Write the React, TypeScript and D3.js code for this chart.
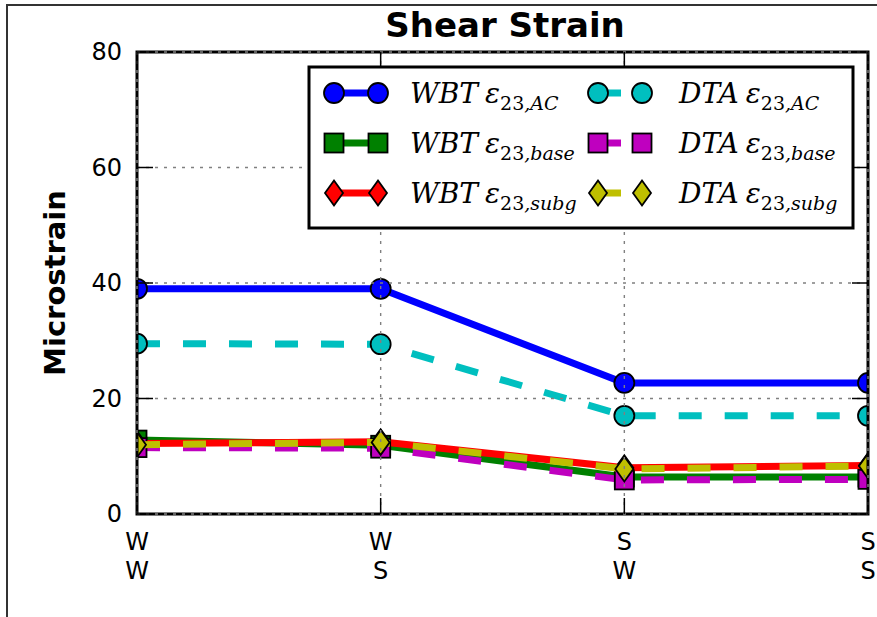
import React from "react";
import * as d3 from "d3";

// Loading-case categories (two-line tick labels)
const categoriesTop = ["W", "W", "S", "S"];
const categoriesBottom = ["W", "S", "W", "S"];
const yTicks = [0, 20, 40, 60, 80];

// Shear strain series (microstrain)
const wbtAC = [39.0, 39.0, 22.7, 22.7];
const wbtBase = [12.8, 11.9, 6.4, 6.4];
const wbtSubg = [12.2, 12.5, 8.0, 8.4];
const dtaAC = [29.5, 29.4, 17.0, 17.0];
const dtaBase = [11.5, 11.4, 5.9, 6.0];
const dtaSubg = [12.0, 12.4, 7.8, 8.3];

type Marker = "circle" | "square" | "diamond";
interface Series {
  values: number[];
  color: string;
  marker: Marker;
  dashed: boolean;
  name: string;
  sub: string;
}

const series: Series[] = [
  { values: wbtAC, color: "#0000ff", marker: "circle", dashed: false, name: "WBT", sub: "AC" },
  { values: wbtBase, color: "#008000", marker: "square", dashed: false, name: "WBT", sub: "base" },
  { values: wbtSubg, color: "#ff0000", marker: "diamond", dashed: false, name: "WBT", sub: "subg" },
  { values: dtaAC, color: "#00bfbf", marker: "circle", dashed: true, name: "DTA", sub: "AC" },
  { values: dtaBase, color: "#bf00bf", marker: "square", dashed: true, name: "DTA", sub: "base" },
  { values: dtaSubg, color: "#bfbf00", marker: "diamond", dashed: true, name: "DTA", sub: "subg" },
];

const W = 877;
const H = 617;
const left = 137;
const right = 868;
const top = 52;
const bottom = 514;

const x = d3.scaleLinear().domain([0, categoriesTop.length - 1]).range([left, right]);
const y = d3.scaleLinear().domain([0, 80]).range([bottom, top]);

const sans = "DejaVu Sans, sans-serif";
const serif = "DejaVu Serif, Liberation Serif, serif";

function MarkerShape({ kind, cx, cy, color }: { kind: Marker; cx: number; cy: number; color: string }) {
  const stroke = "#000";
  const sw = 1.8;
  if (kind === "circle") return <circle cx={cx} cy={cy} r={10} fill={color} stroke={stroke} strokeWidth={sw} />;
  if (kind === "square")
    return <rect x={cx - 9.5} y={cy - 9.5} width={19} height={19} fill={color} stroke={stroke} strokeWidth={sw} />;
  const hw = 9;
  const hh = 12.5;
  return (
    <path
      d={`M${cx},${cy - hh}L${cx + hw},${cy}L${cx},${cy + hh}L${cx - hw},${cy}Z`}
      fill={color}
      stroke={stroke}
      strokeWidth={sw}
    />
  );
}

export default function App() {
  const line = d3
    .line<number>()
    .x((_, i) => x(i))
    .y((d) => y(d));

  const legendRows = [0, 1, 2];
  const legendX = 309;
  const legendY = 67;
  const legendW = 544;
  const legendH = 161;
  const colHandle = [334, 598];
  const colText = [410, 679];
  const rowY = [93, 143, 193];

  return (
    <div style={{ position: "fixed", left: 0, top: 0 }}>
      <svg width={W} height={H} viewBox={`0 0 ${W} ${H}`} style={{ display: "block", background: "#fff" }}>
        <defs>
          <clipPath id="plot-clip">
            <rect x={left} y={top} width={right - left} height={bottom - top} />
          </clipPath>
        </defs>

        {/* figure frame */}
        <path d={`M7,${H}V5H${W}`} fill="none" stroke="#333" strokeWidth={2} />

        {/* title */}
        <text x={505} y={37} textAnchor="middle" fontFamily={sans} fontWeight="bold" fontSize={34}>
          Shear Strain
        </text>

        {/* y-axis label */}
        <text
          transform={`translate(65,${(top + bottom) / 2}) rotate(-90)`}
          textAnchor="middle"
          fontFamily={sans}
          fontWeight="bold"
          fontSize={29}
        >
          Microstrain
        </text>

        {/* data */}
        <g clipPath="url(#plot-clip)">
          {series.map((s, si) => (
            <g key={si}>
              <path
                d={line(s.values) || ""}
                fill="none"
                stroke={s.color}
                strokeWidth={7}
                strokeDasharray={s.dashed ? "23,23" : undefined}
              />
              {s.values.map((v, i) => (
                <MarkerShape key={i} kind={s.marker} cx={x(i)} cy={y(v)} color={s.color} />
              ))}
            </g>
          ))}
        </g>

        {/* grid */}
        <g stroke="#808080" strokeWidth={1.4} strokeDasharray="3,6">
          {yTicks.map((t) => (
            <line key={`gy${t}`} x1={left} x2={right} y1={y(t)} y2={y(t)} />
          ))}
          {categoriesTop.map((_, i) => (
            <line key={`gx${i}`} x1={x(i)} x2={x(i)} y1={top} y2={bottom} />
          ))}
        </g>

        {/* spines */}
        <rect x={left} y={top} width={right - left} height={bottom - top} fill="none" stroke="#000" strokeWidth={3} />
        <g stroke="#808080" strokeWidth={1.4} strokeDasharray="3,6">
          <line x1={left} x2={right} y1={top} y2={top} />
          <line x1={left} x2={right} y1={bottom} y2={bottom} />
          <line x1={left} x2={left} y1={top} y2={bottom} />
          <line x1={right} x2={right} y1={top} y2={bottom} />
        </g>

        {/* ticks */}
        <g stroke="#000" strokeWidth={1.5}>
          {yTicks.map((t) => (
            <g key={`ty${t}`}>
              <line x1={left} x2={left + 16} y1={y(t)} y2={y(t)} />
              <line x1={right} x2={right - 16} y1={y(t)} y2={y(t)} />
            </g>
          ))}
          {categoriesTop.map((_, i) => (
            <g key={`tx${i}`}>
              <line x1={x(i)} x2={x(i)} y1={bottom} y2={bottom - 16} />
              <line x1={x(i)} x2={x(i)} y1={top} y2={top + 16} />
            </g>
          ))}
        </g>

        {/* tick labels */}
        <g fontFamily={sans} fontSize={24} fill="#000">
          {yTicks.map((t) => (
            <text key={`ly${t}`} x={left - 15} y={y(t)} dy="0.35em" textAnchor="end">
              {t}
            </text>
          ))}
          {categoriesTop.map((c, i) => (
            <g key={`lx${i}`}>
              <text x={x(i)} y={550} textAnchor="middle">
                {c}
              </text>
              <text x={x(i)} y={579} textAnchor="middle">
                {categoriesBottom[i]}
              </text>
            </g>
          ))}
        </g>

        {/* legend */}
        <g>
          <rect x={legendX} y={legendY} width={legendW} height={legendH} fill="#fff" stroke="#000" strokeWidth={3} />
          {series.map((s, si) => {
            const col = si < 3 ? 0 : 1;
            const row = legendRows[si % 3];
            const hx0 = colHandle[col];
            const hx1 = hx0 + 44;
            const ly = rowY[row];
            return (
              <g key={`leg${si}`}>
                <line
                  x1={hx0}
                  x2={hx1}
                  y1={ly}
                  y2={ly}
                  stroke={s.color}
                  strokeWidth={7}
                  strokeDasharray={s.dashed ? "23,23" : undefined}
                />
                <MarkerShape kind={s.marker} cx={hx0} cy={ly} color={s.color} />
                <MarkerShape kind={s.marker} cx={hx1} cy={ly} color={s.color} />
                <text x={colText[col]} y={ly + 10} fontFamily={serif} fontSize={28} fill="#000">
                  <tspan fontStyle="italic">{s.name}</tspan>
                  <tspan dx={7} fontStyle="italic">
                    ε
                  </tspan>
                  <tspan dy={7} fontSize={19}>
                    23
                  </tspan>
                  <tspan fontSize={19} fontStyle="italic">
                    ,{s.sub}
                  </tspan>
                </text>
              </g>
            );
          })}
        </g>
      </svg>
    </div>
  );
}
